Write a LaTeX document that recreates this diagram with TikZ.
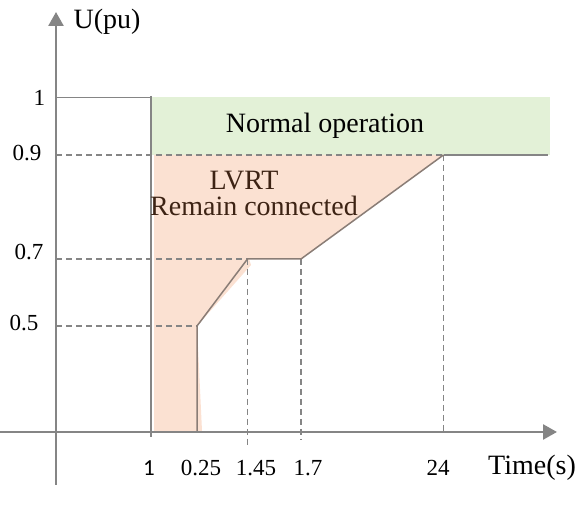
\documentclass[tikz,border=0pt]{standalone}
\usepackage{fontspec}
\setmainfont{Liberation Serif}
\newfontfamily\calfont{Carlito}
\usetikzlibrary{arrows.meta}

\definecolor{normalgreen}{HTML}{E3F1D7}
\definecolor{lvrtfill}{HTML}{FBE1D2}
\definecolor{lvrttext}{HTML}{3D2314}
\definecolor{axisgray}{HTML}{858585}
\definecolor{curvegray}{HTML}{8A7D76}

\begin{document}
\begin{tikzpicture}[
        x=5pt, y=5pt,
        font=\fontsize{14}{16}\selectfont,
        axis/.style={-{Triangle[length=7pt,width=7.5pt]}, draw=axisgray, line width=1.3pt},
        guide/.style={draw=axisgray, line width=0.6pt, dash pattern=on 3pt off 2pt},
        curve/.style={draw=curvegray, line width=0.75pt},
        ticklab/.style={font=\fontsize{11.5}{13}\selectfont}
    ]
        \useasboundingbox (0,0) rectangle (58,50.7);

        % corners of the LVRT curve
        \coordinate (c0)  at (19.7,7.6);
        \coordinate (c05) at (19.7,18.1);
        \coordinate (c145) at (24.75,24.8);
        \coordinate (c17) at (30.1,24.8);
        \coordinate (c24) at (44.35,35.2);

        % shaded regions
        \fill[normalgreen] (15.2,35.2) rectangle (55.0,40.95);
        \fill[lvrtfill] (15.4,7.6) -- (15.4,35.2) -- (c24) -- (c17) -- (24.9,24.8)
            -- (25.1,24.2) -- (c05) -- (20.2,7.6) -- cycle;

        % axes
        \draw[axis] (0,7.5) -- (55.7,7.5);
        \draw[axis] (5.6,2.2) -- (5.6,49.5);

        % level lines
        \draw[axisgray, line width=0.75pt] (5.6,40.95) -- (15.2,40.95);
        \draw[axisgray, line width=0.75pt] (15.1,41.1) -- (15.1,7.0);
        \draw[guide] (5.6,35.2) -- (c24);
        \draw[axisgray, line width=0.9pt] (c24) -- (54.8,35.2);
        \draw[guide] (5.6,24.8) -- (c145);
        \draw[guide] (5.6,18.1) -- (c05);
        \draw[guide] (c145) -- (24.75,6.2);
        \draw[guide] (c17) -- (30.1,6.7);
        \draw[guide] (c24) -- (44.35,7.5);

        % LVRT curve
        \draw[curve] (c0) -- (c05) -- (c145) -- (c17) -- (c24);

        % labels
        \node (ulab) at (10.7,48.5) {U(pu)};
        \node (tlab) at (53.2,3.9) {Time(s)};
        \node (normal) at (32.5,38.1) {Normal operation};
        \node[text=lvrttext] (lvrt) at (24.4,32.6) {LVRT};
        \node[text=lvrttext] (remain) at (25.4,30.1) {Remain connected};

        \node[ticklab] (y1)  at (3.95,40.95) {1};
        \node[ticklab] (y09) at (2.7,35.35) {0.9};
        \node[ticklab] (y07) at (2.9,25.5) {0.7};
        \node[ticklab] (y05) at (2.4,18.4) {0.5};

        \node[ticklab, font=\calfont\fontsize{11.5}{13}\selectfont] (x1) at (14.9,3.9) {1};
        \node[ticklab] (x025) at (20.1,3.9) {0.25};
        \node[ticklab] (x145) at (25.6,3.9) {1.45};
        \node[ticklab] (x17)  at (30.8,3.9) {1.7};
        \node[ticklab] (x24)  at (43.8,3.9) {24};
    \end{tikzpicture}
\end{document}
